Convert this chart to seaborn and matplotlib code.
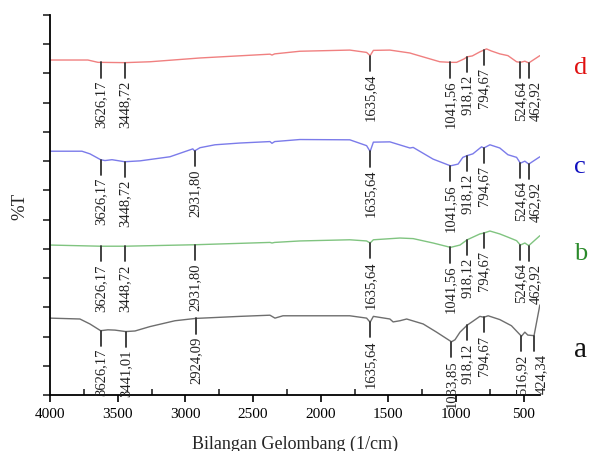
import numpy as np
import pandas as pd
import matplotlib
matplotlib.use("Agg")
import matplotlib.pyplot as plt
from matplotlib.ticker import MultipleLocator
import seaborn as sns

# FTIR spectra, wavenumber (1/cm) vs %T (traces are stacked with an offset)
wn_a = [4000, 3779, 3705, 3626, 3572, 3520, 3441, 3372, 3262, 3077, 2924, 2597, 2375, 2338, 2279,
        2154, 1785, 1661, 1635, 1611, 1489, 1465, 1415, 1365, 1243, 1144, 1034, 1008, 971, 918,
        886, 824, 795, 763, 677, 591, 517, 492, 470, 424, 381]
t_a = [2.63, 2.60, 2.43, 2.20, 2.23, 2.22, 2.17, 2.19, 2.34, 2.54, 2.62, 2.69, 2.73, 2.63, 2.71,
       2.71, 2.71, 2.63, 2.49, 2.69, 2.60, 2.50, 2.54, 2.60, 2.43, 2.15, 1.82, 1.89, 2.15, 2.39,
       2.49, 2.69, 2.66, 2.71, 2.58, 2.37, 2.01, 2.15, 2.05, 2.03, 3.08]

wn_b = [4000, 3626, 3448, 2932, 2375, 2360, 2340, 2154, 1785, 1661, 1635, 1611, 1415, 1317, 1170,
        1041, 971, 918, 824, 795, 750, 677, 617, 553, 525, 492, 463, 381]
t_b = [5.13, 5.09, 5.09, 5.14, 5.22, 5.20, 5.22, 5.27, 5.31, 5.27, 5.20, 5.31, 5.37, 5.35, 5.20,
       5.05, 5.13, 5.31, 5.51, 5.54, 5.61, 5.51, 5.40, 5.28, 5.13, 5.20, 5.11, 5.45]

wn_c = [4000, 3764, 3705, 3626, 3594, 3542, 3448, 3335, 3114, 2945, 2932, 2892, 2781, 2597, 2375,
        2360, 2340, 2154, 1785, 1661, 1635, 1611, 1489, 1341, 1317, 1170, 1041, 985, 950, 918,
        876, 812, 795, 750, 677, 617, 553, 525, 492, 463, 381]
t_c = [8.34, 8.34, 8.25, 8.05, 8.02, 8.05, 7.98, 8.01, 8.15, 8.42, 8.35, 8.46, 8.56, 8.62, 8.67,
       8.61, 8.67, 8.74, 8.73, 8.53, 8.33, 8.65, 8.66, 8.45, 8.47, 8.07, 7.84, 7.90, 8.13, 8.19,
       8.25, 8.49, 8.45, 8.56, 8.45, 8.22, 8.13, 7.93, 8.00, 7.90, 8.15]

wn_d = [4000, 3720, 3645, 3626, 3448, 3262, 2892, 2375, 2360, 2340, 2154, 1785, 1661, 1635, 1611,
        1489, 1341, 1320, 1120, 1041, 996, 940, 918, 880, 824, 795, 775, 740, 677, 617,
        553, 525, 492, 463, 381]
t_d = [11.46, 11.46, 11.38, 11.38, 11.37, 11.40, 11.53, 11.66, 11.63, 11.67, 11.76, 11.80, 11.72, 11.61, 11.79,
       11.80, 11.70, 11.67, 11.40, 11.38, 11.38, 11.50, 11.57, 11.60, 11.74, 11.80, 11.84, 11.77, 11.67, 11.61,
       11.40, 11.38, 11.42, 11.36, 11.61]

peaks_a = [3626.17, 3441.01, 2924.09, 1635.64, 1033.85, 918.12, 794.67, 516.92, 424.34]
peaks_b = [3626.17, 3448.72, 2931.80, 1635.64, 1041.56, 918.12, 794.67, 524.64, 462.92]
peaks_c = [3626.17, 3448.72, 2931.80, 1635.64, 1041.56, 918.12, 794.67, 524.64, 462.92]
peaks_d = [3626.17, 3448.72, 1635.64, 1041.56, 918.12, 794.67, 524.64, 462.92]

names = ['a', 'b', 'c', 'd']
line_colors = ['#6e6e6e', '#80c480', '#7b7bea', '#f08080']
name_colors = ['#111111', '#2a8a2a', '#1010c0', '#e01010']
name_y = [1.57, 4.86, 7.83, 11.22]
name_size = [21, 19, 19, 19]

sns.set_style("ticks")
plt.rcParams['font.family'] = ['Liberation Serif', 'DejaVu Serif']

fig = plt.figure(figsize=(5.9, 4.52), dpi=100)
ax = fig.add_axes([50/590, 1 - 396/452, 490/590, 380/452])

traces = [(wn_a, t_a, peaks_a), (wn_b, t_b, peaks_b), (wn_c, t_c, peaks_c), (wn_d, t_d, peaks_d)]

for (wn, t, peaks), nm, lc, nc, ny, ns in zip(traces, names, line_colors, name_colors, name_y, name_size):
    df = pd.DataFrame({'wn': wn, 't': t})
    sns.lineplot(data=df, x='wn', y='t', color=lc, lw=1.0, estimator=None, sort=False, ax=ax)
    for p in peaks:
        y0 = np.interp(p, wn[::-1], t[::-1])
        ax.plot([p, p], [y0, y0 - 0.52], color='#333333', lw=1.3)
        dx = 0
        if p in (462.92, 424.34):
            dx = 5
        lab = f"{p:.2f}".replace('.', ',')
        ax.annotate(lab, xy=(p, y0 - 0.52), xytext=(dx, -1.5), textcoords='offset points',
                    rotation=90, ha='center', va='top', fontsize=10.5, color='#222222')
    ax.text(1.082, ny, nm, transform=ax.get_yaxis_transform(), color=nc, fontsize=ns,
            ha='center', va='center', clip_on=False)

ax.set_xlim(4000, 380)
ax.set_ylim(0, 13)
ax.xaxis.set_major_locator(MultipleLocator(500))
ax.xaxis.set_minor_locator(MultipleLocator(250))
ax.yaxis.set_major_locator(MultipleLocator(1))
ax.set_yticklabels([])
ax.tick_params(axis='x', which='major', direction='out', length=5, width=1.2, labelsize=11, colors='black')
ax.tick_params(axis='x', which='minor', direction='in', length=4, width=1.2)
ax.tick_params(axis='y', which='major', direction='out', length=5, width=1.2)
for s in ['top', 'right']:
    ax.spines[s].set_visible(False)
for s in ['left', 'bottom']:
    ax.spines[s].set_linewidth(1.3)
    ax.spines[s].set_color('black')

ax.set_xlabel('Bilangan Gelombang (1/cm)', fontsize=13, labelpad=11)
ax.set_ylabel('%T', fontsize=13.5, labelpad=7)

fig.savefig('out.png', dpi=100)
